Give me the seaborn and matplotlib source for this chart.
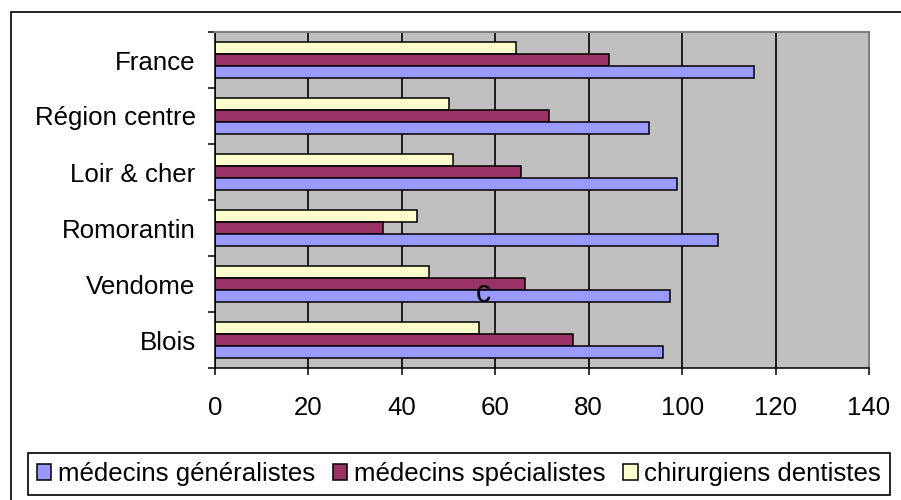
import matplotlib
matplotlib.use("Agg")
import matplotlib.pyplot as plt
import seaborn as sns
import pandas as pd
from matplotlib.patches import Patch, Rectangle

# Densité de professionnels de santé par zone
zones = ["France", "Région centre", "Loir & cher", "Romorantin", "Vendome", "Blois"]
generalistes = [115.3, 93.0, 99.0, 107.6, 97.3, 96.0]
specialistes = [84.4, 71.5, 65.5, 35.9, 66.4, 76.6]
dentistes = [64.5, 50.1, 51.0, 43.3, 45.8, 56.5]
series_names = ["médecins généralistes", "médecins spécialistes", "chirurgiens dentistes"]
series_colors = ["#9999FF", "#993366", "#FFFFCC"]
x_ticks = [0, 20, 40, 60, 80, 100, 120, 140]

sns.set_style("white")
plt.rcParams["font.family"] = ["Liberation Sans", "DejaVu Sans"]
plt.rcParams["text.color"] = "black"
plt.rcParams["xtick.color"] = "black"
plt.rcParams["ytick.color"] = "black"
plt.rcParams["axes.labelcolor"] = "black"

df = pd.DataFrame({
    "zone": zones * 3,
    "serie": [series_names[0]] * len(zones) + [series_names[1]] * len(zones)
             + [series_names[2]] * len(zones),
    "valeur": generalistes + specialistes + dentistes,
})

FS = 18.6
W, H = 901, 500
fig = plt.figure(figsize=(W / 100, H / 100), dpi=100)
fig.patch.set_facecolor("white")
ax = fig.add_axes([215 / W, 1 - 368 / H, (869 - 215) / W, (368 - 32) / H])

palette = dict(zip(series_names, series_colors))
sns.barplot(data=df, x="valeur", y="zone", hue="serie", order=zones,
            hue_order=series_names[::-1], palette=palette, orient="h",
            width=0.66, edgecolor="black", linewidth=1.1, saturation=1,
            legend=False, ax=ax)

ax.set_facecolor("#C0C0C0")
ax.set_axisbelow(True)
ax.set_xlim(0, 140)
ax.set_xticks(x_ticks)
ax.set_xticklabels([str(v) for v in x_ticks])
ax.set_ylim(len(zones) - 0.5, -0.5)
ax.xaxis.grid(True, color="black", linewidth=1.2)
ax.yaxis.grid(False)
ax.set_xlabel("")
ax.set_ylabel("")

# category labels centred, tick marks on category boundaries
ax.set_yticks(range(len(zones)))
ax.set_yticklabels(zones)
ax.set_yticks([i - 0.5 for i in range(len(zones) + 1)], minor=True)
ax.tick_params(axis="y", which="major", length=0, pad=14, labelsize=FS,
               labelcolor="black")
ax.tick_params(axis="y", which="minor", length=5, width=1.1, color="black",
               direction="out", left=True)
ax.tick_params(axis="x", which="major", length=5, width=1.1, color="black",
               direction="out", bottom=True, pad=15, labelsize=FS,
               labelcolor="black")

for side in ("left", "bottom"):
    ax.spines[side].set_color("black")
    ax.spines[side].set_linewidth(1.1)
for side in ("top", "right"):
    ax.spines[side].set_color("#808080")
    ax.spines[side].set_linewidth(1.5)

# cadre extérieur
fig.patches.append(Rectangle((11 / W, -0.1), 1.2, 1 - 12 / H + 0.1,
                             transform=fig.transFigure, fill=False,
                             edgecolor="black", linewidth=1.2))

fig.text(483 / W, 1 - 294 / H, "c", ha="center", va="center", fontsize=22,
         color="black")

handles = [Patch(facecolor=c, edgecolor="black", linewidth=1.1) for c in series_colors]
leg = fig.legend(handles, series_names, loc="center",
                 bbox_to_anchor=(459 / W, 1 - 474 / H), ncol=3, frameon=True,
                 fancybox=False, edgecolor="black", framealpha=1, fontsize=FS,
                 handlelength=0.56, handleheight=0.56, handletextpad=0.25,
                 columnspacing=0.7, borderpad=0.35, borderaxespad=0)
leg.get_frame().set_linewidth(1.2)
for t in leg.get_texts():
    t.set_color("black")

fig.savefig("out.png", dpi=100)
